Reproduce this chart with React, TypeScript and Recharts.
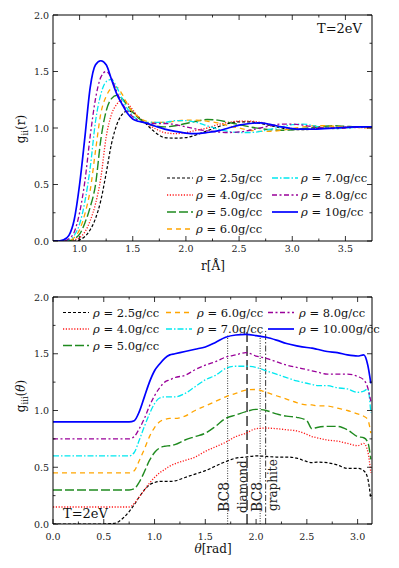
import React from "react";
import { LineChart, Line, XAxis, YAxis, ReferenceLine } from "recharts";

const FONT = "'DejaVu Serif', serif";

// ---- top panel: g_ii(r) ----
const rVals = [
  0.75, 0.8, 0.85, 0.9, 0.95, 1.0, 1.05, 1.1, 1.15, 1.2, 1.25, 1.3, 1.35, 1.4, 1.45, 1.5, 1.55, 1.6,
  1.7, 1.8, 1.9, 2.0, 2.1, 2.2, 2.3, 2.4, 2.5, 2.6, 2.7, 2.8, 2.9, 3.0, 3.1, 3.2, 3.3, 3.4, 3.5, 3.6,
  3.75,
];
const gr25 = [
  0, 0, 0, 0, 0, 0.01, 0.04, 0.1, 0.2, 0.36, 0.6, 0.86, 1.03, 1.12, 1.15, 1.14, 1.1, 1.06,
  0.97, 0.915, 0.91, 0.915, 0.94, 0.975, 1.01, 1.04, 1.055, 1.055, 1.04, 1.02, 1.0, 0.985, 0.985, 0.99, 1.0, 1.0, 1.005, 1.01,
  1.01,
];
const gr4 = [
  0, 0, 0, 0, 0.01, 0.03, 0.08, 0.18, 0.33, 0.56, 0.92, 1.12, 1.21, 1.25, 1.22, 1.16, 1.1, 1.06,
  1.0, 0.96, 0.95, 0.96, 0.98, 1.0, 1.03, 1.05, 1.06, 1.06, 1.05, 1.03, 1.01, 0.995, 0.99, 0.995, 1.0, 1.005, 1.01, 1.005,
  1.0,
];
const gr5 = [
  0, 0, 0, 0, 0.02, 0.06, 0.16, 0.3, 0.5, 0.9, 1.15, 1.26, 1.29, 1.26, 1.2, 1.14, 1.09, 1.06,
  1.02, 1.01, 1.02, 1.04, 1.06, 1.075, 1.07, 1.05, 1.03, 1.01, 0.995, 0.985, 0.98, 0.985, 0.995, 1.005, 1.015, 1.02, 1.015, 1.01,
  1.005,
];
const gr6 = [
  0, 0, 0, 0.005, 0.03, 0.1, 0.24, 0.45, 0.8, 1.13, 1.28, 1.35, 1.36, 1.3, 1.21, 1.14, 1.1, 1.07,
  1.05, 1.05, 1.06, 1.07, 1.07, 1.06, 1.045, 1.02, 1.0, 0.98, 0.97, 0.97, 0.98, 0.995, 1.01, 1.02, 1.02, 1.015, 1.01, 1.005,
  1.0,
];
const gr7 = [
  0, 0, 0, 0.01, 0.05, 0.15, 0.35, 0.65, 1.06, 1.3, 1.41, 1.43, 1.36, 1.26, 1.17, 1.11, 1.07, 1.05,
  1.05, 1.05, 1.065, 1.065, 1.05, 1.02, 0.99, 0.97, 0.96, 0.96, 0.97, 0.99, 1.01, 1.03, 1.035, 1.02, 1.0, 0.995, 1.0, 1.005,
  1.01,
];
const gr8 = [
  0, 0, 0, 0.02, 0.08, 0.25, 0.53, 0.93, 1.26, 1.45, 1.5, 1.44, 1.32, 1.22, 1.15, 1.1, 1.07, 1.05,
  1.04, 1.04, 1.03, 1.01, 0.99, 0.975, 0.965, 0.96, 0.965, 0.98, 1.0, 1.02, 1.035, 1.035, 1.025, 1.01, 1.0, 0.995, 1.0, 1.005,
  1.01,
];
const gr10 = [
  0, 0, 0.01, 0.05, 0.19, 0.5, 0.92, 1.36, 1.56, 1.595, 1.56, 1.43, 1.3, 1.21, 1.13, 1.08, 1.06, 1.05,
  1.02, 0.99, 0.97, 0.955, 0.95, 0.96, 0.975, 1.0, 1.025, 1.04, 1.045, 1.03, 1.01, 0.995, 0.99, 0.99, 0.995, 1.0, 1.005, 1.01,
  1.01,
];

// ---- bottom panel: g_iii(theta) ----
const thetaVals = [
  0, 0.5, 0.6, 0.7, 0.75, 0.8, 0.85, 0.9, 0.95, 1.0, 1.05, 1.1, 1.15, 1.2,
  1.3, 1.4, 1.5, 1.6, 1.7, 1.8, 1.9, 2.0, 2.1, 2.2, 2.3, 2.4, 2.5, 2.55,
  2.6, 2.7, 2.8, 2.9, 3.0, 3.06, 3.1, 3.13,
];
const ga25 = [
  0, 0, 0.005, 0.06, 0.11, 0.17, 0.24, 0.3, 0.345, 0.365, 0.375, 0.375, 0.375, 0.38,
  0.41, 0.44, 0.47, 0.51, 0.55, 0.58, 0.59, 0.6, 0.595, 0.59, 0.59, 0.58, 0.55, 0.54,
  0.545, 0.54, 0.52, 0.49, 0.49, 0.47, 0.4, 0.22,
];
const ga4 = [
  0.15, 0.15, 0.15, 0.15, 0.15, 0.18, 0.24, 0.3, 0.36, 0.41, 0.45, 0.48, 0.51, 0.53,
  0.56, 0.59, 0.64, 0.68, 0.72, 0.77, 0.8, 0.84, 0.845, 0.84, 0.83, 0.82, 0.79, 0.77,
  0.76, 0.74, 0.73, 0.71, 0.69, 0.71, 0.64, 0.45,
];
const ga5 = [
  0.3, 0.3, 0.3, 0.3, 0.3, 0.31, 0.37, 0.46, 0.56, 0.63, 0.67, 0.685, 0.69, 0.7,
  0.74, 0.77, 0.8, 0.86, 0.93, 0.96, 0.99, 1.01, 1.0, 0.97, 0.95, 0.94, 0.91, 0.84,
  0.85, 0.86, 0.86, 0.83, 0.77, 0.76, 0.72, 0.57,
];
const ga6 = [
  0.45, 0.45, 0.45, 0.45, 0.45, 0.47, 0.56, 0.66, 0.77, 0.85, 0.9, 0.92, 0.93, 0.93,
  0.95, 1.0, 1.04, 1.08, 1.12, 1.15, 1.18, 1.185, 1.16, 1.13, 1.1, 1.07, 1.05, 1.05,
  1.04, 1.04, 1.02, 1.0, 0.97, 0.95, 0.92, 0.8,
];
const ga7 = [
  0.6, 0.6, 0.6, 0.6, 0.6, 0.63, 0.74, 0.86, 0.97, 1.06, 1.11, 1.12, 1.12, 1.12,
  1.15, 1.21, 1.27, 1.31, 1.37, 1.39, 1.39, 1.38, 1.35, 1.32, 1.29, 1.26, 1.24, 1.23,
  1.22, 1.22, 1.2, 1.19, 1.16, 1.17, 1.19, 0.98,
];
const ga8 = [
  0.75, 0.75, 0.75, 0.75, 0.75, 0.77, 0.84, 0.93, 1.04, 1.13, 1.2, 1.25, 1.27, 1.29,
  1.31, 1.36, 1.4, 1.43, 1.47, 1.49, 1.51, 1.48, 1.46, 1.43, 1.4, 1.38, 1.36, 1.35,
  1.34, 1.32, 1.32, 1.32, 1.3, 1.27, 1.2, 1.08,
];
const ga10 = [
  0.9, 0.9, 0.9, 0.9, 0.9, 0.91, 0.99, 1.12, 1.25, 1.35, 1.41, 1.46, 1.49, 1.5,
  1.52, 1.54, 1.56, 1.6, 1.645, 1.665, 1.67, 1.66, 1.645, 1.62, 1.59, 1.57, 1.555, 1.55,
  1.54, 1.52, 1.51, 1.49, 1.48, 1.49, 1.4, 1.24,
];

// structure reference angles (rad) and the height their markers reach
const structNames = ["BC8", "diamond", "BC8", "graphite"];
const structAngles = [1.72, 1.911, 2.04, 2.094];
const structTops = [1.66, 1.7, 1.69, 1.7];

const topLabels = ["2.5", "4.0", "5.0", "6.0", "7.0", "8.0", "10"];
const bottomLabels = ["2.5", "4.0", "5.0", "6.0", "7.0", "8.0", "10.00"];

const rTicks = [1.0, 1.25, 1.5, 1.75, 2.0, 2.25, 2.5, 2.75, 3.0, 3.25, 3.5];
const thetaTicks = [0, 0.25, 0.5, 0.75, 1.0, 1.25, 1.5, 1.75, 2.0, 2.25, 2.5, 2.75, 3.0];
const gTicks = [0, 0.25, 0.5, 0.75, 1.0, 1.25, 1.5, 1.75, 2.0];

const keys = ["d25", "d4", "d5", "d6", "d7", "d8", "d10"];
const styles = [
  { color: "#000000", dash: "3 2", width: 1.2 },
  { color: "#ff1a1a", dash: "1.2 1.6", width: 1.3 },
  { color: "#1f8a1f", dash: "9 3", width: 1.4 },
  { color: "#ffa500", dash: "5 4", width: 1.3 },
  { color: "#00e8f0", dash: "6 2 1.5 2", width: 1.3 },
  { color: "#990099", dash: "5 2.5 2 2.5", width: 1.3 },
  { color: "#0000ff", dash: undefined, width: 1.7 },
];

const topSeries = [gr25, gr4, gr5, gr6, gr7, gr8, gr10];
const bottomSeries = [ga25, ga4, ga5, ga6, ga7, ga8, ga10];

const topData = rVals.map((r, i) => {
  const row: any = { x: r };
  keys.forEach((k, j) => (row[k] = topSeries[j][i]));
  return row;
});
const bottomData = thetaVals.map((t, i) => {
  const row: any = { x: t };
  keys.forEach((k, j) => (row[k] = bottomSeries[j][i]));
  return row;
});

const isMajor = (v: number) => Math.abs(v * 2 - Math.round(v * 2)) < 1e-6;

const makeTick = (side: string, gap = 0) => (props: any) => {
  const { x, y, payload } = props;
  const v = payload.value as number;
  const major = isMajor(v);
  const len = major ? 5 : 2.5;
  if (side === "bottom") {
    return (
      <g>
        <line x1={x} y1={y} x2={x} y2={y - len} stroke="#000" strokeWidth={0.8} />
        {major && (
          <text x={x} y={y + gap} textAnchor="middle" fontSize={9.5} fontFamily={FONT} fill="#222">
            {v.toFixed(1)}
          </text>
        )}
      </g>
    );
  }
  if (side === "top") {
    return <line x1={x} y1={y} x2={x} y2={y + len} stroke="#000" strokeWidth={0.8} />;
  }
  if (side === "left") {
    return (
      <g>
        <line x1={x} y1={y} x2={x + len} y2={y} stroke="#000" strokeWidth={0.8} />
        {major && (
          <text x={x - 4} y={y + 3.5} textAnchor="end" fontSize={9.5} fontFamily={FONT} fill="#222">
            {v.toFixed(1)}
          </text>
        )}
      </g>
    );
  }
  return <line x1={x} y1={y} x2={x - len} y2={y} stroke="#000" strokeWidth={0.8} />;
};

const Rho = ({ value }: { value: string }) => (
  <>
    <tspan fontStyle="italic">ρ</tspan>
    {" = " + value + "g/cc"}
  </>
);

// legend drawn as svg inside the chart
const LegendBlock = ({ columns, labels }: { columns: { x: number; tx: number; rows: number[] }[]; labels: string[] }) => {
  let idx = 0;
  return (
    <g>
      {columns.map((col, ci) =>
        col.rows.map((ry, ri) => {
          const i = idx++;
          const st = styles[i];
          return (
            <g key={`${ci}-${ri}`}>
              <line x1={col.x} y1={ry} x2={col.x + 26} y2={ry} stroke={st.color} strokeWidth={st.width} strokeDasharray={st.dash} />
              <text x={col.tx} y={ry + 4} fontSize={11.5} fontFamily={FONT} fill="#111">
                <Rho value={labels[i]} />
              </text>
            </g>
          );
        })
      )}
    </g>
  );
};

const axesFor = (domain: number[], xTicks: number[], gap: number) => [
  <XAxis key="xb" xAxisId={0} type="number" dataKey="x" domain={domain} allowDataOverflow ticks={xTicks} interval={0}
    height={1} tickSize={0} tickMargin={0} tickLine={false} axisLine={{ stroke: "#000" }} tick={makeTick("bottom", gap)} />,
  <XAxis key="xt" xAxisId="top" orientation="top" type="number" dataKey="x" domain={domain} allowDataOverflow ticks={xTicks}
    interval={0} height={1} tickSize={0} tickMargin={0} tickLine={false} axisLine={{ stroke: "#000" }} tick={makeTick("top")} />,
  <YAxis key="yl" yAxisId={0} type="number" domain={[0, 2]} allowDataOverflow ticks={gTicks} interval={0} width={1}
    tickSize={0} tickMargin={0} tickLine={false} axisLine={{ stroke: "#000" }} tick={makeTick("left")} />,
  <YAxis key="yr" yAxisId="right" orientation="right" type="number" domain={[0, 2]} allowDataOverflow ticks={gTicks}
    interval={0} width={1} tickSize={0} tickMargin={0} tickLine={false} axisLine={{ stroke: "#000" }} tick={makeTick("right")} />,
];

const lines = () =>
  keys.map((k, i) => (
    <Line key={k} type="monotone" dataKey={k} stroke={styles[i].color} strokeWidth={styles[i].width}
      strokeDasharray={styles[i].dash} dot={false} activeDot={false} isAnimationActive={false} />
  ));

const App = () => {
  return (
    <div style={{ position: "absolute", left: 0, top: 0, width: 399, height: 568, background: "#fff" }}>
      <div style={{ position: "absolute", left: 0, top: 0 }}>
        <LineChart width={399} height={280} data={topData} margin={{ top: 14, right: 26, bottom: 38, left: 52 }}>
          {axesFor([0.75, 3.75], rTicks, 11)}
          {lines()}
          <text x={317} y={33} fontSize={13} fontFamily={FONT} fill="#111">T=2eV</text>
          <text x={213} y={270} textAnchor="middle" fontSize={12} fontFamily={FONT} fill="#111">r[Å]</text>
          <text transform="rotate(-90 25 129)" x={25} y={129} textAnchor="middle" fontSize={12} fontFamily={FONT} fill="#111">
            g<tspan fontSize={8.5} dy={3}>ii</tspan><tspan dy={-3}>(r)</tspan>
          </text>
          <LegendBlock
            labels={topLabels}
            columns={[
              { x: 167, tx: 196, rows: [178, 195, 212, 229] },
              { x: 272, tx: 301, rows: [178, 195, 212] },
            ]}
          />
        </LineChart>
      </div>
      <div style={{ position: "absolute", left: 0, top: 280 }}>
        <LineChart width={399} height={288} data={bottomData} margin={{ top: 16, right: 26, bottom: 43, left: 52 }}>
          {axesFor([0, Math.PI], thetaTicks, 16)}
          {structAngles.map((a, i) => (
            <ReferenceLine key={i} segment={[{ x: a, y: 0 }, { x: a, y: structTops[i] }]}
              stroke={i === 1 ? "#555" : "#222"} strokeWidth={i === 1 ? 1.8 : 0.9}
              strokeDasharray={i === 1 ? "10 4" : i === 3 ? "6 2 1.5 2" : "1 1.5"} />
          ))}
          {lines()}
          {structNames.map((name, i) => {
            const pos = [[229, 232, 14], [247, 233, 12], [262, 232, 14], [277, 231, 12]][i];
            return (
              <text key={i} transform={`rotate(-90 ${pos[0]} ${pos[1]})`} x={pos[0]} y={pos[1]} fontSize={pos[2]}
                fontFamily={FONT} fill="#222">{name}</text>
            );
          })}
          <text x={63} y={238} fontSize={13} fontFamily={FONT} fill="#111">T=2eV</text>
          <text x={213} y={273} textAnchor="middle" fontSize={12} fontFamily={FONT} fill="#111">
            <tspan fontStyle="italic">θ</tspan>[rad]
          </text>
          <text transform="rotate(-90 25 116)" x={25} y={116} textAnchor="middle" fontSize={12} fontFamily={FONT} fill="#111">
            g<tspan fontSize={8.5} dy={3}>iii</tspan><tspan dy={-3}>(</tspan><tspan fontStyle="italic">θ</tspan>)
          </text>
          <LegendBlock
            labels={bottomLabels}
            columns={[
              { x: 63, tx: 93, rows: [32.5, 49, 65.5] },
              { x: 166, tx: 197, rows: [32.5, 49] },
              { x: 268, tx: 299, rows: [32.5, 49] },
            ]}
          />
        </LineChart>
      </div>
    </div>
  );
};

export default App;
